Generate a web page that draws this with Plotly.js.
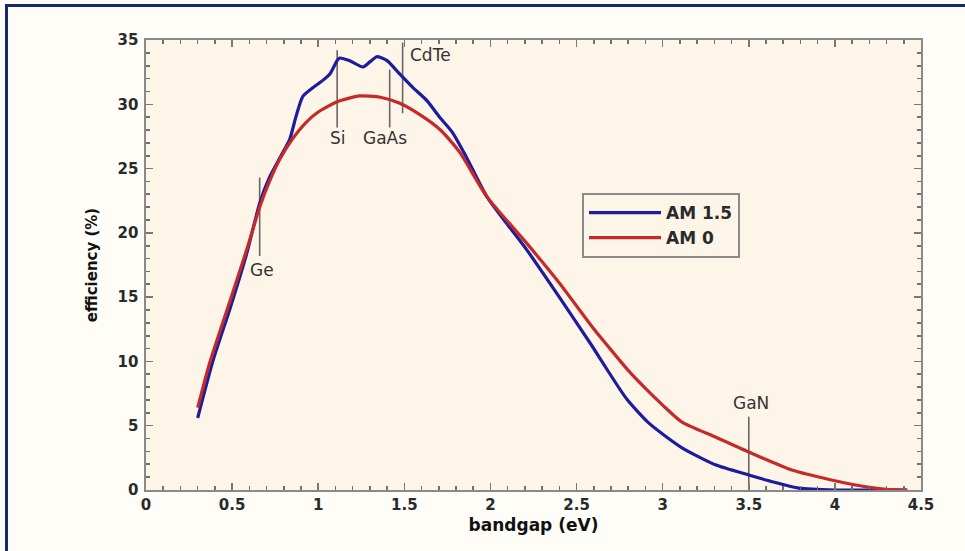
<!DOCTYPE html>
<html>
<head>
<meta charset="utf-8">
<script src="https://cdn.plot.ly/plotly-3.0.1.min.js"></script>
<style>
  html, body { margin: 0; padding: 0; background: #fffdf8; }
  #wrap { position: relative; width: 965px; height: 551px; overflow: hidden; }
  #chart { position: absolute; left: 0; top: 0; width: 965px; height: 551px; }
  .frameTop { position: absolute; left: 5px; top: 4px; width: 960px; height: 3px; background: #15296b; }
  .frameLeft { position: absolute; left: 5px; top: 4px; width: 3px; height: 547px; background: #15296b; }
</style>
</head>
<body>
<div id="wrap">
  <div id="chart"></div>
  <div class="frameTop"></div>
  <div class="frameLeft"></div>
</div>
<script>
// AM 1.5 spectrum
const am15_x = [0.30, 0.39, 0.49, 0.585, 0.66, 0.72, 0.78, 0.835, 0.87, 0.91, 0.97, 1.03, 1.07, 1.11, 1.125, 1.18, 1.26, 1.30, 1.34, 1.40, 1.47, 1.55, 1.63, 1.705, 1.78, 1.86, 1.98, 2.21, 2.40, 2.59, 2.69, 2.79, 2.92, 3.11, 3.31, 3.50, 3.65, 3.79, 4.0, 4.2, 4.42];
const am15_y = [5.6, 10.1, 14.2, 18.4, 22.3, 24.4, 25.9, 27.3, 29.0, 30.6, 31.3, 31.9, 32.4, 33.4, 33.6, 33.4, 32.9, 33.3, 33.7, 33.4, 32.4, 31.3, 30.3, 29.0, 27.8, 25.9, 22.8, 18.7, 15.0, 11.2, 9.1, 7.1, 5.2, 3.3, 1.94, 1.17, 0.6, 0.15, 0, 0, 0];
// AM 0 spectrum
const am0_x = [0.30, 0.37, 0.49, 0.585, 0.66, 0.72, 0.78, 0.85, 0.93, 1.00, 1.11, 1.24, 1.36, 1.47, 1.59, 1.71, 1.82, 1.98, 2.21, 2.40, 2.59, 2.70, 2.80, 2.90, 3.00, 3.11, 3.31, 3.50, 3.75, 3.98, 4.18, 4.30, 4.42];
const am0_y = [6.4, 9.9, 14.8, 18.7, 22.0, 24.1, 25.8, 27.3, 28.6, 29.4, 30.2, 30.65, 30.55, 30.1, 29.2, 28.0, 26.3, 22.8, 19.2, 16.1, 12.7, 10.9, 9.3, 7.9, 6.6, 5.3, 4.1, 2.95, 1.55, 0.78, 0.25, 0.05, 0];

// Material markers
const mat_names = ["Ge", "Si", "GaAs", "CdTe", "GaN"];
const mat_gap = [0.66, 1.11, 1.415, 1.49, 3.5];
const mat_top = [24.3, 34.2, 32.7, 34.8, 5.7];
const mat_bottom = [18.2, 28.2, 28.2, 29.3, 0];
const mat_label_x = [0.675, 1.115, 1.385, 1.52, 3.515];
const mat_label_y = [17.1, 27.4, 27.4, 33.8, 6.8];
const mat_anchor = ["center", "center", "center", "left", "center"];

const xTicks = [0, 0.5, 1, 1.5, 2, 2.5, 3, 3.5, 4, 4.5];
const xTickText = ["0", "0.5", "1", "1.5", "2", "2.5", "3", "3.5", "4", "4.5"];
const yTicks = [0, 5, 10, 15, 20, 25, 30, 35];

const traces = [
  { x: am15_x, y: am15_y, name: "AM 1.5", mode: "lines", line: { color: "#1c1c9c", width: 3.2, shape: "spline", smoothing: 0.6 } },
  { x: am0_x, y: am0_y, name: "AM 0", mode: "lines", line: { color: "#c42a2a", width: 3.2, shape: "spline", smoothing: 0.6 } }
];

const shapes = mat_names.map((n, i) => ({
  type: "line", xref: "x", yref: "y",
  x0: mat_gap[i], x1: mat_gap[i], y0: mat_bottom[i], y1: mat_top[i],
  line: { color: "#666666", width: 1.6 }, layer: "below"
}));

const annotations = mat_names.map((n, i) => ({
  x: mat_label_x[i], y: mat_label_y[i], xref: "x", yref: "y",
  text: n, showarrow: false, xanchor: mat_anchor[i], yanchor: "middle",
  font: { family: "DejaVu Sans", size: 17, color: "#333333" }
}));

const tickFont = { family: "DejaVu Sans", size: 15, color: "#2a2a2a", weight: "bold" };

const axisCommon = {
  showline: true, linecolor: "#8a8a8a", linewidth: 1.6, mirror: "allticks",
  ticks: "inside", ticklen: 7, tickcolor: "#777777", tickwidth: 1.5,
  showgrid: false, zeroline: false, tickfont: tickFont, tickmode: "linear"
};

const layout = {
  width: 965, height: 551,
  margin: { l: 146, r: 44, t: 40, b: 61 },
  paper_bgcolor: "#fffdf8",
  plot_bgcolor: "#fdf5e8",
  showlegend: true,
  legend: {
    x: 0.5626, y: 0.66, xanchor: "left", yanchor: "top",
    bgcolor: "#fdf5e8", bordercolor: "#8a8a8a", borderwidth: 2,
    font: { family: "DejaVu Sans", size: 17, color: "#2a2a2a", weight: "bold" },
    tracegroupgap: 0, itemwidth: 72
  },
  xaxis: Object.assign({}, axisCommon, {
    range: [0, 4.5], tick0: xTicks[0], dtick: xTicks[1] - xTicks[0],
    minor: { dtick: 0.1, ticks: "inside", ticklen: 4, tickcolor: "#707070", tickwidth: 1.6, showgrid: false },
    title: { text: "bandgap (eV)", font: { family: "DejaVu Sans", size: 17, color: "#111", weight: "bold" }, standoff: 6 }
  }),
  yaxis: Object.assign({}, axisCommon, {
    range: [0, 35], tick0: yTicks[0], dtick: yTicks[1] - yTicks[0], ticklabelstandoff: 3,
    minor: { dtick: 1, ticks: "inside", ticklen: 4, tickcolor: "#707070", tickwidth: 1.6, showgrid: false },
    title: { text: "efficiency (%)", font: { family: "DejaVu Sans", size: 15, color: "#111", weight: "bold" }, standoff: 16 }
  }),
  shapes: shapes,
  annotations: annotations
};

Plotly.newPlot("chart", traces, layout, { displayModeBar: false, staticPlot: true });
</script>
</body>
</html>
